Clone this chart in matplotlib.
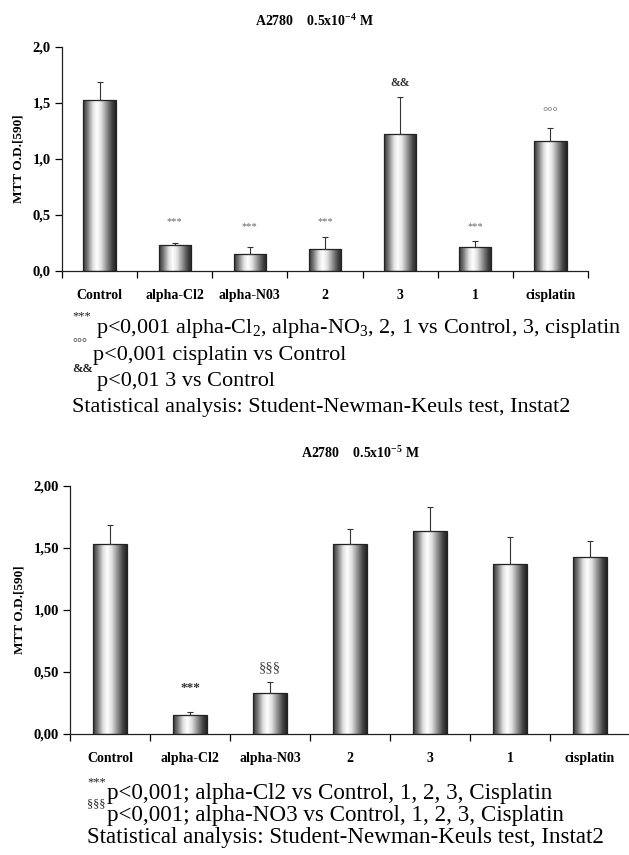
import matplotlib
matplotlib.use("Agg")
import matplotlib.pyplot as plt
import numpy as np
from matplotlib.colors import LinearSegmentedColormap

plt.rcParams['font.family'] = ['Liberation Serif', 'DejaVu Serif']
plt.rcParams['mathtext.fontset'] = 'custom'
plt.rcParams['mathtext.rm'] = 'Liberation Serif'
plt.rcParams['mathtext.it'] = 'Liberation Serif:italic'
plt.rcParams['mathtext.bf'] = 'Liberation Serif:bold'

# ---------------- data ----------------
categories = ["Control", "alpha-Cl2", "alpha-N03", "2", "3", "1", "cisplatin"]

top_values = [1.53, 0.235, 0.15, 0.20, 1.22, 0.21, 1.165]
top_errors = [0.16, 0.012, 0.06, 0.10, 0.33, 0.06, 0.11]
top_marks = ["", "***", "***", "***", "&&", "***", "°°°"]
top_mark_y = [None, 0.44, 0.40, 0.44, 1.675, 0.40, 1.42]
top_yticks = [0.0, 0.5, 1.0, 1.5, 2.0]
top_yticklabels = ["0,0", "0,5", "1,0", "1,5", "2,0"]

bot_values = [1.53, 0.15, 0.33, 1.53, 1.64, 1.37, 1.43]
bot_errors = [0.155, 0.03, 0.09, 0.125, 0.19, 0.215, 0.13]
bot_marks = ["", "***", "§§§", "", "", "", ""]
bot_mark_y = [None, 0.375, 0.535, None, None, None, None]
bot_yticks = [0.0, 0.5, 1.0, 1.5, 2.0]
bot_yticklabels = ["0,00", "0,50", "1,00", "1,50", "2,00"]

# ---------------- figure ----------------
W, H = 629, 855
fig = plt.figure(figsize=(W / 100, H / 100), dpi=100)

def fx(px):
    return px / W

def fy(py):
    return 1 - py / H

cmap = LinearSegmentedColormap.from_list(
    "cyl", [(0.0, "#333333"), (0.12, "#707070"), (0.3, "#e0e0e0"),
            (0.42, "#ffffff"), (0.55, "#e2e2e2"), (0.72, "#909090"),
            (0.88, "#444444"), (1.0, "#222222")])
grad = np.linspace(0, 1, 256).reshape(1, -1)


def draw_chart(ax, values, errors, marks, mark_y, yticks, yticklabels,
               width, mark_styles):
    x = np.arange(len(categories))
    bars = ax.bar(x, values, width=width, facecolor="none",
                  edgecolor="#222222", linewidth=0.9, zorder=3)
    for b in bars:
        x0 = b.get_x()
        im = ax.imshow(grad, extent=[x0, x0 + b.get_width(), 0, b.get_height()],
                       aspect="auto", cmap=cmap, vmin=0, vmax=1, zorder=2,
                       interpolation="bilinear")
        im.set_clip_path(b)
    ax.errorbar(x, values, yerr=[np.zeros(len(values)), errors], fmt="none",
                ecolor="#333333", elinewidth=0.8, capsize=2.2, capthick=0.8,
                zorder=4)
    for xi, m, my in zip(x, marks, mark_y):
        if m:
            st = mark_styles.get(m, {})
            ax.text(xi, my, m, ha="center", va="center", zorder=5, **st)
    ax.set_xlim(-0.5, len(categories) - 0.5)
    ax.set_ylim(0, 2.0)
    ax.set_yticks(yticks)
    ax.set_yticklabels(yticklabels, fontweight="bold", fontsize=10.5)
    ax.set_xticks(np.arange(len(categories) + 1) - 0.5)
    ax.set_xticklabels([])
    ax.set_xticks(x, minor=True)
    ax.set_xticklabels(categories, minor=True, fontweight="bold", fontsize=10)
    ax.tick_params(axis="x", which="minor", length=0, pad=13)
    ax.tick_params(axis="x", which="major", length=5, width=0.9, direction="out")
    ax.tick_params(axis="y", length=5, width=0.9, direction="out", pad=3)
    for s in ("top", "right"):
        ax.spines[s].set_visible(False)
    for s in ("left", "bottom"):
        ax.spines[s].set_linewidth(0.9)
        ax.spines[s].set_color("#222222")
    ax.set_ylabel("MTT O.D.[590]", fontweight="bold", fontsize=9.5, labelpad=6)


# ---- top chart ----
ax1 = fig.add_axes([fx(62), fy(271), fx(588) - fx(62), fy(47) - fy(271)])
draw_chart(ax1, top_values, top_errors, top_marks, top_mark_y,
           top_yticks, top_yticklabels, 0.43,
           {"***": dict(fontsize=7.5, color="#666666"),
            "&&": dict(fontsize=8.5, fontweight="bold", color="#333333"),
            "°°°": dict(fontsize=9.5, color="#666666")})
fig.text(fx(314), fy(21), r"A2780    0.5x10$^{\mathbf{-4}}$ M", ha="center",
         va="center", fontweight="bold", fontsize=10)

# ---- bottom chart ----
ax2 = fig.add_axes([fx(70), fy(734), fx(630) - fx(70), fy(486) - fy(734)])
draw_chart(ax2, bot_values, bot_errors, bot_marks, bot_mark_y,
           bot_yticks, bot_yticklabels, 0.42,
           {"***": dict(fontsize=9.5, fontweight="bold", color="#333333"),
            "§§§": dict(fontsize=10.5, color="#444444")})
fig.text(fx(360), fy(453), r"A2780    0.5x10$^{\mathbf{-5}}$ M", ha="center",
         va="center", fontweight="bold", fontsize=10)

# ---- footnotes ----
SUP = 9
top_notes = [
    ("***", r"p<0,001 alpha-Cl$_2$, alpha-NO$_3$, 2, 1 vs Control, 3, cisplatin", 328, 96),
    ("°°°", "p<0,001 cisplatin vs Control", 355, 93),
    ("&&", "p<0,01 3 vs Control", 381, 97),
    ("", "Statistical analysis: Student-Newman-Keuls test, Instat2", 407, 72),
]
for sup, txt, yc, xt in top_notes:
    if sup:
        fig.text(fx(72), fy(yc - 12), sup, ha="left", va="center",
                 fontsize=SUP, fontweight="bold" if sup == "&&" else "normal",
                 color="#222222")
    fig.text(fx(xt), fy(yc), txt, ha="left", va="center", fontsize=16)

bot_notes = [
    ("***", "p<0,001; alpha-Cl2 vs Control, 1, 2, 3, Cisplatin", 793, 107),
    ("§§§", "p<0,001; alpha-NO3 vs Control, 1, 2, 3, Cisplatin", 815, 107),
    ("", "Statistical analysis: Student-Newman-Keuls test, Instat2", 837, 87),
]
for sup, txt, yc, xt in bot_notes:
    if sup:
        fig.text(fx(87), fy(yc - 11), sup, ha="left", va="center",
                 fontsize=SUP, color="#222222")
    fig.text(fx(xt), fy(yc), txt, ha="left", va="center", fontsize=16.6)

fig.savefig("out.png", dpi=100)
